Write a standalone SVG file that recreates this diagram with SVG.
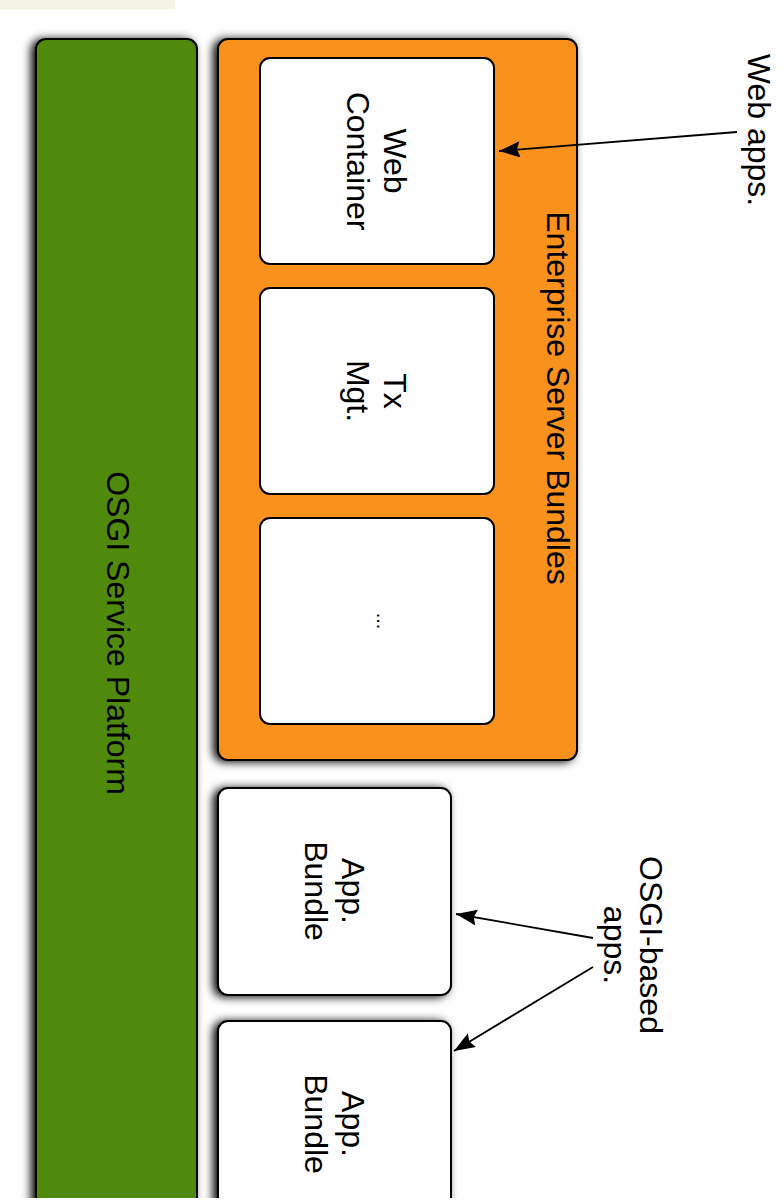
<svg xmlns="http://www.w3.org/2000/svg" width="782" height="1202" viewBox="0 0 782 1202">
  <defs>
    <filter id="shadow" x="-20%" y="-20%" width="140%" height="140%">
      <feGaussianBlur in="SourceAlpha" stdDeviation="5"/>
      <feOffset dx="-4" dy="1" result="b"/>
      <feComponentTransfer><feFuncA type="linear" slope="1"/></feComponentTransfer>
      <feMerge><feMergeNode/><feMergeNode in="SourceGraphic"/></feMerge>
    </filter>
    <marker id="arrow" markerUnits="userSpaceOnUse" markerWidth="24" markerHeight="18" refX="21" refY="8" orient="auto">
      <path d="M0,0 L21,8 L0,16 L3,8 Z" fill="#000"/>
    </marker>
    <style>
      .box { stroke: #000; stroke-width: 2; }
      .white { fill: #fff; }
      .lbl { font-family: "Liberation Sans", Arial, sans-serif; font-size: 32px; fill: #000; text-anchor: middle; }
      .conn { stroke: #000; stroke-width: 1.8; fill: none; marker-end: url(#arrow); }
    </style>
  </defs>
  <rect x="0" y="0" width="782" height="1202" fill="#fff"/>
  <rect x="0" y="0" width="175" height="9" fill="#f3f4e6"/>

  <g id="osgi-platform">
    <rect class="box" x="36" y="39" width="161" height="1200" rx="10" fill="#4f8a08" filter="url(#shadow)"/>
    <text class="lbl" transform="translate(107,633) rotate(90)">OSGI Service Platform</text>
  </g>

  <g id="enterprise-bundles">
    <rect class="box" x="218" y="39" width="359" height="721" rx="10" fill="#f8921a" filter="url(#shadow)"/>
    <text class="lbl" transform="translate(547,398) rotate(90)">Enterprise Server Bundles</text>
  </g>

  <g id="web-container">
    <rect class="box white" x="260" y="58" width="234" height="206" rx="10"/>
    <text class="lbl" transform="translate(384,161) rotate(90)"><tspan x="0" y="0">Web</tspan><tspan x="0" y="37">Container</tspan></text>
  </g>

  <g id="tx-mgt">
    <rect class="box white" x="260" y="288" width="234" height="206" rx="10"/>
    <text class="lbl" transform="translate(384,391) rotate(90)"><tspan x="0" y="0">Tx</tspan><tspan x="0" y="37">Mgt.</tspan></text>
  </g>

  <g id="more">
    <rect class="box white" x="260" y="518" width="234" height="206" rx="10"/>
    <text class="lbl" transform="translate(377,621) rotate(90)" style="font-size:20px">...</text>
  </g>

  <g id="app-bundle-1">
    <rect class="box white" x="218" y="788" width="233" height="207" rx="10" filter="url(#shadow)"/>
    <text class="lbl" transform="translate(342,891) rotate(90)"><tspan x="0" y="0">App.</tspan><tspan x="0" y="37">Bundle</tspan></text>
  </g>

  <g id="app-bundle-2">
    <rect class="box white" x="218" y="1021" width="233" height="207" rx="10" filter="url(#shadow)"/>
    <text class="lbl" transform="translate(342,1124) rotate(90)"><tspan x="0" y="0">App.</tspan><tspan x="0" y="37">Bundle</tspan></text>
  </g>

  <g id="web-apps-label">
    <text class="lbl" transform="translate(748,130) rotate(90)">Web apps.</text>
  </g>

  <g id="osgi-apps-label">
    <text class="lbl" transform="translate(640,945) rotate(90)"><tspan x="0" y="0">OSGI-based</tspan><tspan x="0" y="36">apps.</tspan></text>
  </g>

  <g id="connectors">
    <line class="conn" x1="737" y1="132" x2="499" y2="151"/>
    <line class="conn" x1="593" y1="938" x2="456" y2="914"/>
    <line class="conn" x1="593" y1="967" x2="454" y2="1051"/>
  </g>

  <rect x="0" y="1198" width="782" height="4" fill="#fff"/>
</svg>
